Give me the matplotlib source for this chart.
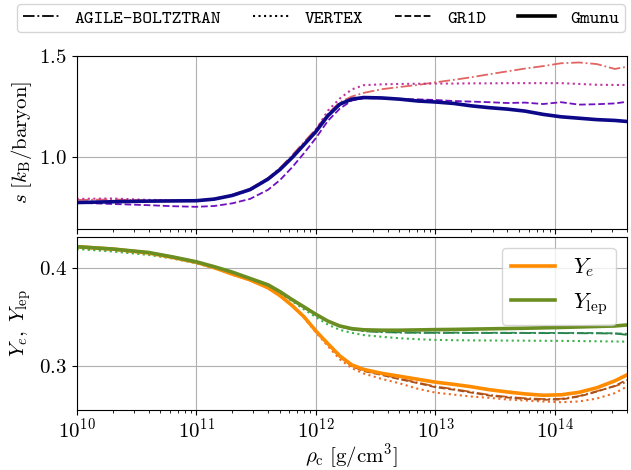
import matplotlib
matplotlib.use("Agg")
import matplotlib.pyplot as plt
from matplotlib.font_manager import FontProperties
import numpy as np

plt.rcParams['font.family'] = 'serif'
plt.rcParams['font.serif'] = ['cmr10']
plt.rcParams['mathtext.fontset'] = 'cm'
plt.rcParams['axes.formatter.use_mathtext'] = True
plt.rcParams['axes.unicode_minus'] = False

# log10 of central density [g/cm^3]
lg_rho = [10.0, 10.3, 10.6, 10.8, 11.0, 11.15, 11.3, 11.45, 11.6, 11.7,
          11.8, 11.9, 12.0, 12.1, 12.2, 12.3, 12.4, 12.55, 12.7, 12.85,
          13.0, 13.15, 13.3, 13.45, 13.6, 13.75, 13.9, 14.05, 14.2, 14.35,
          14.5, 14.6]

codes = ['AGILE-BOLTZTRAN', 'VERTEX', 'GR1D', 'Gmunu']

# entropy s [k_B/baryon]
s_agile = [0.790, 0.792, 0.788, 0.788, 0.787, 0.796, 0.815, 0.845, 0.898, 0.948,
           1.010, 1.075, 1.140, 1.215, 1.272, 1.300, 1.318, 1.336, 1.347, 1.357,
           1.370, 1.382, 1.395, 1.410, 1.424, 1.438, 1.450, 1.464, 1.468, 1.460,
           1.436, 1.447]
s_vertex = [0.795, 0.797, 0.790, 0.789, 0.788, 0.794, 0.810, 0.838, 0.890, 0.940,
            1.002, 1.068, 1.135, 1.230, 1.290, 1.335, 1.356, 1.360, 1.362, 1.363,
            1.364, 1.364, 1.365, 1.365, 1.366, 1.366, 1.366, 1.366, 1.362, 1.358,
            1.357, 1.357]
s_gr1d = [0.776, 0.770, 0.764, 0.759, 0.756, 0.760, 0.773, 0.795, 0.840, 0.888,
          0.950, 1.020, 1.095, 1.180, 1.240, 1.280, 1.292, 1.291, 1.288, 1.286,
          1.283, 1.278, 1.275, 1.272, 1.268, 1.270, 1.263, 1.272, 1.260, 1.262,
          1.266, 1.274]
s_gmunu = [0.777, 0.781, 0.784, 0.785, 0.786, 0.794, 0.812, 0.841, 0.893, 0.940,
           0.998, 1.062, 1.127, 1.205, 1.262, 1.287, 1.295, 1.293, 1.287, 1.278,
           1.273, 1.266, 1.254, 1.245, 1.238, 1.228, 1.212, 1.200, 1.193, 1.186,
           1.182, 1.177]

# electron fraction Y_e
ye_agile = [0.4212, 0.4188, 0.4150, 0.4103, 0.4053, 0.3998, 0.3933, 0.3873, 0.3793, 0.3713,
            0.3613, 0.3498, 0.3350, 0.3220, 0.3092, 0.2998, 0.2950, 0.2910, 0.2868, 0.2828,
            0.2788, 0.2762, 0.2732, 0.2702, 0.2682, 0.2668, 0.2660, 0.2662, 0.2690, 0.2740,
            0.2790, 0.2835]
ye_vertex = [0.4200, 0.4175, 0.4140, 0.4095, 0.4050, 0.3995, 0.3930, 0.3870, 0.3790, 0.3710,
             0.3610, 0.3490, 0.3340, 0.3200, 0.3065, 0.2975, 0.2920, 0.2865, 0.2820, 0.2765,
             0.2725, 0.2705, 0.2685, 0.2672, 0.2655, 0.2645, 0.2635, 0.2627, 0.2635, 0.2665,
             0.2720, 0.2786]
ye_gr1d = [0.4212, 0.4188, 0.4150, 0.4103, 0.4053, 0.3998, 0.3933, 0.3873, 0.3793, 0.3713,
           0.3613, 0.3498, 0.3350, 0.3220, 0.3090, 0.2995, 0.2945, 0.2905, 0.2862, 0.2822,
           0.2780, 0.2755, 0.2725, 0.2695, 0.2675, 0.2660, 0.2652, 0.2655, 0.2685, 0.2735,
           0.2795, 0.2855]
ye_gmunu = [0.4214, 0.4190, 0.4150, 0.4105, 0.4055, 0.4000, 0.3935, 0.3875, 0.3795, 0.3715,
            0.3615, 0.3500, 0.3354, 0.3225, 0.3100, 0.3008, 0.2962, 0.2922, 0.2892, 0.2862,
            0.2832, 0.2810, 0.2785, 0.2755, 0.2732, 0.2712, 0.2698, 0.2703, 0.2728, 0.2775,
            0.2845, 0.2905]

# lepton fraction Y_lep
yl_agile = [0.4212, 0.4188, 0.4153, 0.4108, 0.4058, 0.4008, 0.3953, 0.3888, 0.3823, 0.3753,
            0.3673, 0.3598, 0.3520, 0.3452, 0.3400, 0.3370, 0.3352, 0.3342, 0.3338, 0.3336,
            0.3335, 0.3335, 0.3334, 0.3334, 0.3333, 0.3333, 0.3332, 0.3332, 0.3331, 0.3330,
            0.3328, 0.3315]
yl_vertex = [0.4190, 0.4165, 0.4130, 0.4095, 0.4045, 0.3995, 0.3940, 0.3878, 0.3810, 0.3740,
             0.3660, 0.3575, 0.3495, 0.3420, 0.3365, 0.3335, 0.3312, 0.3295, 0.3280, 0.3270,
             0.3263, 0.3260, 0.3258, 0.3257, 0.3256, 0.3255, 0.3254, 0.3253, 0.3251, 0.3249,
             0.3247, 0.3245]
yl_gr1d = [0.4212, 0.4188, 0.4153, 0.4108, 0.4058, 0.4008, 0.3953, 0.3888, 0.3823, 0.3753,
           0.3673, 0.3598, 0.3522, 0.3453, 0.3402, 0.3372, 0.3356, 0.3345, 0.3340, 0.3338,
           0.3337, 0.3337, 0.3336, 0.3336, 0.3336, 0.3335, 0.3335, 0.3334, 0.3334, 0.3333,
           0.3330, 0.3325]
yl_gmunu = [0.4214, 0.4190, 0.4155, 0.4110, 0.4060, 0.4010, 0.3955, 0.3890, 0.3825, 0.3755,
            0.3675, 0.3600, 0.3524, 0.3455, 0.3405, 0.3378, 0.3366, 0.3362, 0.3362, 0.3365,
            0.3368, 0.3370, 0.3373, 0.3376, 0.3379, 0.3382, 0.3386, 0.3390, 0.3395, 0.3400,
            0.3405, 0.3415]

styles = ['-.', ':', '--', '-']
widths = [1.3, 1.5, 1.3, 2.6]
s_colors = ['#e16462', '#c0359f', '#7010c0', '#0d0887']
ye_colors = ['#c45a18', '#ee6a24', '#a8501a', '#ff8c00']
yl_colors = ['#1f7a3a', '#3cb34a', '#2e8b57', '#6b8e23']

rho = 10 ** np.array(lg_rho)

fig = plt.figure(figsize=(6.31, 4.70), dpi=100)
ax1 = fig.add_axes([0.1216, 0.5134, 0.8721, 0.3675])
ax2 = fig.add_axes([0.1216, 0.1277, 0.8721, 0.3687], sharex=ax1)

s_all = [s_agile, s_vertex, s_gr1d, s_gmunu]
ye_all = [ye_agile, ye_vertex, ye_gr1d, ye_gmunu]
yl_all = [yl_agile, yl_vertex, yl_gr1d, yl_gmunu]

handles = []
for i in range(4):
    ax1.plot(rho, s_all[i], ls=styles[i], lw=widths[i], color=s_colors[i])
    ax2.plot(rho, ye_all[i], ls=styles[i], lw=widths[i], color=ye_colors[i])
    ax2.plot(rho, yl_all[i], ls=styles[i], lw=widths[i], color=yl_colors[i])
    # black proxy lines for the code legend
    h, = ax1.plot([], [], ls=styles[i], lw=widths[i], color='black', label=codes[i])
    handles.append(h)

ax1.set_xscale('log')
ax1.set_xlim(1e10, 4e14)
ax1.set_ylim(0.648, 1.5)
ax1.set_yticks([1.0, 1.5])
ax1.tick_params(labelbottom=False, labelsize=15)
ax1.grid(True)
ax1.set_ylabel(r'$s\ [k_{\rm B}/{\rm baryon}]$', fontsize=15)

ax2.set_ylim(0.2548, 0.4316)
ax2.set_yticks([0.3, 0.4])
ax2.tick_params(labelsize=15)
ax2.tick_params(axis='x', pad=2)
ax2.grid(True)
ax2.set_ylabel(r'$Y_e,\ Y_{\rm lep}$', fontsize=15)
ax2.set_xlabel(r'$\rho_{\rm c}\ [{\rm g/cm^3}]$', fontsize=15, labelpad=0)

# Y_e / Y_lep legend
ye_h, = ax2.plot([], [], color=ye_colors[3], lw=2.6, label=r'$Y_e$')
yl_h, = ax2.plot([], [], color=yl_colors[3], lw=2.6, label=r'$Y_{\rm lep}$')
ax2.legend(handles=[ye_h, yl_h], loc='upper right', fontsize=16)

# code legend across the top
fig.legend(handles=handles, loc='upper left', bbox_to_anchor=(17 / 631, 1 - 4 / 470),
           ncol=4, prop=FontProperties(family='cmtt10', size=13.4),
           handlelength=2.0, handletextpad=0.8, columnspacing=1.7,
           borderpad=0.3, borderaxespad=0)

fig.savefig('out.png', dpi=100)
